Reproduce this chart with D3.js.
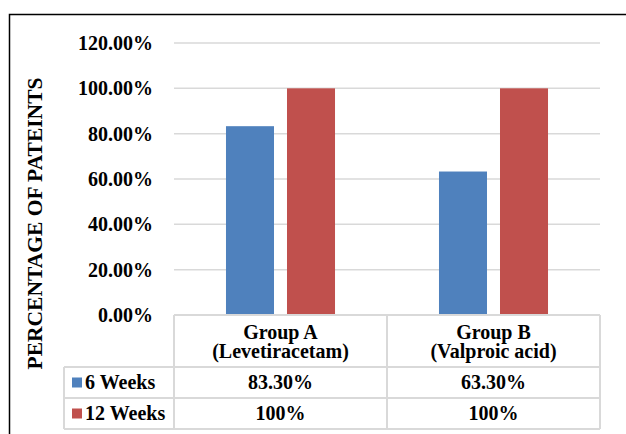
<!DOCTYPE html>
<html>
<head>
<meta charset="utf-8">
<script src="https://cdn.jsdelivr.net/npm/d3@7"></script>
<style>
  html, body { margin: 0; padding: 0; background: #fff; }
  svg { display: block; }
</style>
</head>
<body>
<svg id="chart" width="626" height="434"></svg>
<script>
const categories = ["Group A", "Group B"];
const categorySubtitles = ["(Levetiracetam)", "(Valproic acid)"];
const seriesNames = ["6 Weeks", "12 Weeks"];
const weeks6 = [0.833, 0.633];
const weeks12 = [1.0, 1.0];
const weeks6Labels = ["83.30%", "63.30%"];
const weeks12Labels = ["100%", "100%"];
const yTicks = [0, 0.2, 0.4, 0.6, 0.8, 1.0, 1.2];
const yTitle = "PERCENTAGE OF PATEINTS";
const colors = ["#4f81bd", "#c0504d"];

const seriesValues = [weeks6, weeks12];
const seriesLabels = [weeks6Labels, weeks12Labels];

const FONT = "serif";
const FS = 20;
const svg = d3.select("#chart");
const gridColor = "#d9d9d9";

function styleText(sel, size) {
  return sel.attr("font-family", FONT).attr("font-weight", "bold")
    .attr("font-size", size).attr("fill", "#000");
}

// outer frame
svg.append("rect")
  .attr("x", 9.5).attr("y", 14.5)
  .attr("width", 700).attr("height", 500)
  .attr("fill", "none").attr("stroke", "#000").attr("stroke-width", 1.5);

const plotLeft = 174, plotRight = 600;
const y = d3.scaleLinear().domain([0, 1.2]).range([315, 43]);
const x = d3.scaleBand().domain(categories).range([plotLeft, plotRight]).padding(0);
const xs = d3.scaleBand().domain(seriesNames).range([0, x.bandwidth()])
  .paddingInner(0.213).paddingOuter(0.852);

// gridlines
svg.append("g").selectAll("line").data(yTicks.filter(d => d > 0)).join("line")
  .attr("x1", plotLeft).attr("x2", plotRight)
  .attr("y1", d => y(d)).attr("y2", d => y(d))
  .attr("stroke", gridColor).attr("stroke-width", 1.5);

// y axis labels via d3 axis
const yAxis = d3.axisLeft(y).tickValues(yTicks).tickFormat(d3.format(".2%")).tickSize(0).tickPadding(0);
const yg = svg.append("g").attr("transform", "translate(153,0)").call(yAxis);
yg.attr("font-family", FONT);
yg.select(".domain").remove();
yg.selectAll(".tick line").remove();
styleText(yg.selectAll("text"), 20).attr("dy", "0.33em");

// bars
const groups = svg.append("g").selectAll("g").data(categories).join("g")
  .attr("transform", d => `translate(${x(d)},0)`);
groups.selectAll("rect").data((c, ci) => seriesNames.map((s, si) => ({ s, si, v: seriesValues[si][ci] })))
  .join("rect")
  .attr("x", d => xs(d.s))
  .attr("width", xs.bandwidth())
  .attr("y", d => y(d.v))
  .attr("height", d => y(0) - y(d.v))
  .attr("fill", d => colors[d.si]);

// data table
const tableLeft = 64;
const rowY = [315, 367, 398, 429];
const tbl = svg.append("g").attr("stroke", gridColor).attr("stroke-width", 2);
tbl.append("line").attr("x1", plotLeft).attr("x2", plotRight).attr("y1", rowY[0]).attr("y2", rowY[0]);
[rowY[1], rowY[2], rowY[3]].forEach(yy => {
  tbl.append("line").attr("x1", tableLeft).attr("x2", plotRight).attr("y1", yy).attr("y2", yy);
});
tbl.append("line").attr("x1", tableLeft).attr("x2", tableLeft).attr("y1", rowY[1]).attr("y2", rowY[3]);
const colEdges = [plotLeft].concat(categories.map(c => x(c) + x.bandwidth()));
colEdges.forEach(xx => {
  tbl.append("line").attr("x1", xx).attr("x2", xx).attr("y1", rowY[0]).attr("y2", rowY[3]);
});

// header text
const header = svg.append("g");
categories.forEach((c, i) => {
  const cx = x(c) + x.bandwidth() / 2;
  styleText(header.append("text"), FS).attr("x", cx).attr("y", 338.5).attr("text-anchor", "middle").text(c);
  styleText(header.append("text"), FS).attr("x", cx).attr("y", 358).attr("text-anchor", "middle").text(categorySubtitles[i]);
});

// rows
seriesNames.forEach((s, si) => {
  const top = rowY[si + 1], bottom = rowY[si + 2];
  const mid = (top + bottom) / 2;
  svg.append("rect").attr("x", 72).attr("y", mid - 5).attr("width", 10).attr("height", 10).attr("fill", colors[si]);
  styleText(svg.append("text"), FS).attr("x", 85).attr("y", mid + 6.5).text(s);
  categories.forEach((c, ci) => {
    styleText(svg.append("text"), FS)
      .attr("x", x(c) + x.bandwidth() / 2)
      .attr("y", mid + 6.5)
      .attr("text-anchor", "middle")
      .text(seriesLabels[si][ci]);
  });
});

// y title
styleText(svg.append("text"), 21.5)
  .attr("transform", "translate(42,223.5) rotate(-90)")
  .attr("text-anchor", "middle")
  .text(yTitle);
</script>
</body>
</html>
